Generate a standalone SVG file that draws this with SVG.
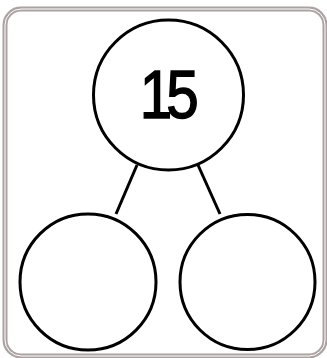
<svg xmlns="http://www.w3.org/2000/svg" width="327" height="358" viewBox="0 0 327 358">
<style>
.frame{fill:none;stroke:#aca2a2;}
.node{fill:#fff;stroke:#000;stroke-width:3;}
.conn{stroke:#000;stroke-width:3;fill:none;}
.num{font-family:"Liberation Sans",Arial,sans-serif;font-size:68px;fill:#000;stroke:#000;stroke-width:1.5;}
</style>
<rect width="327" height="358" fill="#fff"/>
<rect class="frame" x="5" y="9" width="320" height="347" rx="16" stroke-width="5"/>
<rect x="5" y="9" width="320" height="347" rx="16" fill="none" stroke="#fff" stroke-width="1"/>
<g id="connectors">
<line class="conn" x1="137" y1="165" x2="116" y2="214"/>
<line class="conn" x1="198" y1="165" x2="220" y2="214"/>
</g>
<g id="top">
<circle class="node" cx="168.5" cy="95" r="75"/>
<text class="num" transform="translate(167,118) scale(0.86,1)" x="-1" y="0" text-anchor="middle" letter-spacing="-7">15</text>
</g>
<g id="left">
<circle class="node" cx="88" cy="282" r="68"/>
</g>
<g id="right">
<circle class="node" cx="247.5" cy="282" r="67.5"/>
</g>
</svg>
